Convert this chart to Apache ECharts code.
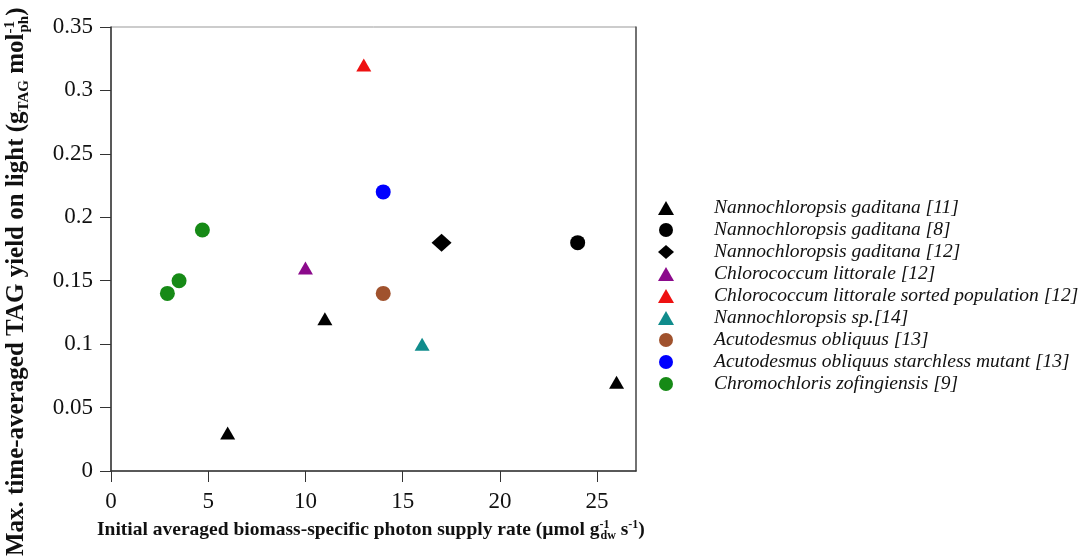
<!DOCTYPE html>
<html><head><meta charset="utf-8">
<script src="https://cdn.jsdelivr.net/npm/echarts@6/dist/echarts.min.js"></script>
<style>html,body{margin:0;padding:0;background:#fff}#c{width:1082px;height:557px}</style>
</head><body><div id="c"></div>
<script>
var seriesNames = [
  'Nannochloropsis gaditana [11]',
  'Nannochloropsis gaditana [8]',
  'Nannochloropsis gaditana [12]',
  'Chlorococcum littorale [12]',
  'Chlorococcum littorale sorted population [12]',
  'Nannochloropsis sp.[14]',
  'Acutodesmus obliquus [13]',
  'Acutodesmus obliquus starchless mutant [13]',
  'Chromochloris zofingiensis [9]'
];
var ngad11 = [[6, 0.03], [11, 0.12], [26, 0.07]];
var ngad8 = [[24, 0.18]];
var ngad12 = [[17, 0.18]];
var clit12 = [[10, 0.16]];
var clitSorted = [[13, 0.32]];
var nsp14 = [[16, 0.10]];
var aobl13 = [[14, 0.14]];
var aoblMut13 = [[14, 0.22]];
var czof9 = [[2.9, 0.14], [3.5, 0.15], [4.7, 0.19]];
var xTicks = [0, 5, 10, 15, 20, 25];
var yTicks = [0, 0.05, 0.1, 0.15, 0.2, 0.25, 0.3, 0.35];

var seriesData = [ngad11, ngad8, ngad12, clit12, clitSorted, nsp14, aobl13, aoblMut13, czof9];
var symbols = ['triangle', 'circle', 'diamond', 'triangle', 'triangle', 'triangle', 'circle', 'circle', 'circle'];
var colors = ['#000000', '#000000', '#000000', '#8b0a8b', '#ee1111', '#108c8c', '#a0522d', '#0000ff', '#168a16'];
var sizes = { triangle: [15, 13], circle: 15, diamond: [20, 18] };

var serif = '"Liberation Serif", "Times New Roman", serif';
var chart = echarts.init(document.getElementById('c'), null, { renderer: 'canvas' });

var series = seriesData.map(function (d, i) {
  return {
    name: seriesNames[i], type: 'scatter', data: d,
    symbol: symbols[i], symbolSize: sizes[symbols[i]],
    itemStyle: { color: colors[i], opacity: 1 },
    emphasis: { disabled: true }, z: 3
  };
});

function richSet(fs, lh) {
  return {
    sub: { fontFamily: serif, fontWeight: 'bold', fontSize: fs, verticalAlign: 'bottom', lineHeight: lh, fill: '#111', align: 'left' },
    sup: { fontFamily: serif, fontWeight: 'bold', fontSize: fs, verticalAlign: 'top', lineHeight: lh, fill: '#111', width: 1, align: 'left' },
    sup2: { fontFamily: serif, fontWeight: 'bold', fontSize: fs, verticalAlign: 'top', lineHeight: lh, fill: '#111', align: 'left' }
  };
}

chart.setOption({
  animation: false,
  grid: { left: 111, top: 27, right: 446, bottom: 86, outerBoundsMode: 'none', show: true, borderColor: '#999', borderWidth: 1 },
  xAxis: [{
    type: 'value', min: 0, max: 27, interval: 5,
    axisLine: { show: true, onZero: false, lineStyle: { color: '#333', width: 1.5 } },
    axisTick: { show: true, inside: false, length: 11, customValues: xTicks, lineStyle: { color: '#333', width: 1 } },
    axisLabel: { customValues: xTicks, margin: 19, fontFamily: serif, fontSize: 23, color: '#111' },
    splitLine: { show: false }
  }],
  yAxis: [{
    type: 'value', min: 0, max: 0.35, interval: 0.05,
    axisLine: { show: true, onZero: false, lineStyle: { color: '#333', width: 1.5 } },
    axisTick: { show: true, inside: false, length: 11, customValues: yTicks, lineStyle: { color: '#333', width: 1 } },
    axisLabel: { customValues: yTicks, margin: 18, fontFamily: serif, fontSize: 23, color: '#111',
      formatter: function (v) { return String(+v.toFixed(2)); } },
    splitLine: { show: false }
  }, {
    type: 'value', min: 0, max: 0.35, position: 'right',
    axisLine: { show: true, onZero: false, lineStyle: { color: '#555', width: 1.5 } },
    axisTick: { show: false }, axisLabel: { show: false }, splitLine: { show: false }
  }],
  legend: {
    orient: 'vertical', left: 653, top: 192,
    itemWidth: 16, itemHeight: 14, itemGap: 0,
    selectedMode: false,
    data: seriesNames,
    textStyle: { fontFamily: serif, fontStyle: 'italic', fontSize: 19.5, color: '#111', lineHeight: 22, padding: [0, 0, 0, 35] }
  },
  graphic: [{
    type: 'text', x: 97, y: 530,
    style: {
      text: 'Initial averaged biomass-specific photon supply rate (µmol g{sup|-1}{sub|dw} s{sup2|-1})',
      fontFamily: serif, fontWeight: 'bold', fontSize: 19.5, fill: '#111',
      align: 'left', verticalAlign: 'middle', lineHeight: 23,
      rich: richSet(12, 23)
    }
  }, {
    type: 'text', x: 17, y: 556, rotation: Math.PI / 2,
    style: {
      text: 'Max. time-averaged TAG yield on light (g{sub|TAG} mol{sup|-1}{sub|ph})',
      fontFamily: serif, fontWeight: 'bold', fontSize: 25, fill: '#111',
      align: 'left', verticalAlign: 'middle', lineHeight: 29,
      rich: richSet(15, 29)
    }
  }],
  series: series
});
</script></body></html>
